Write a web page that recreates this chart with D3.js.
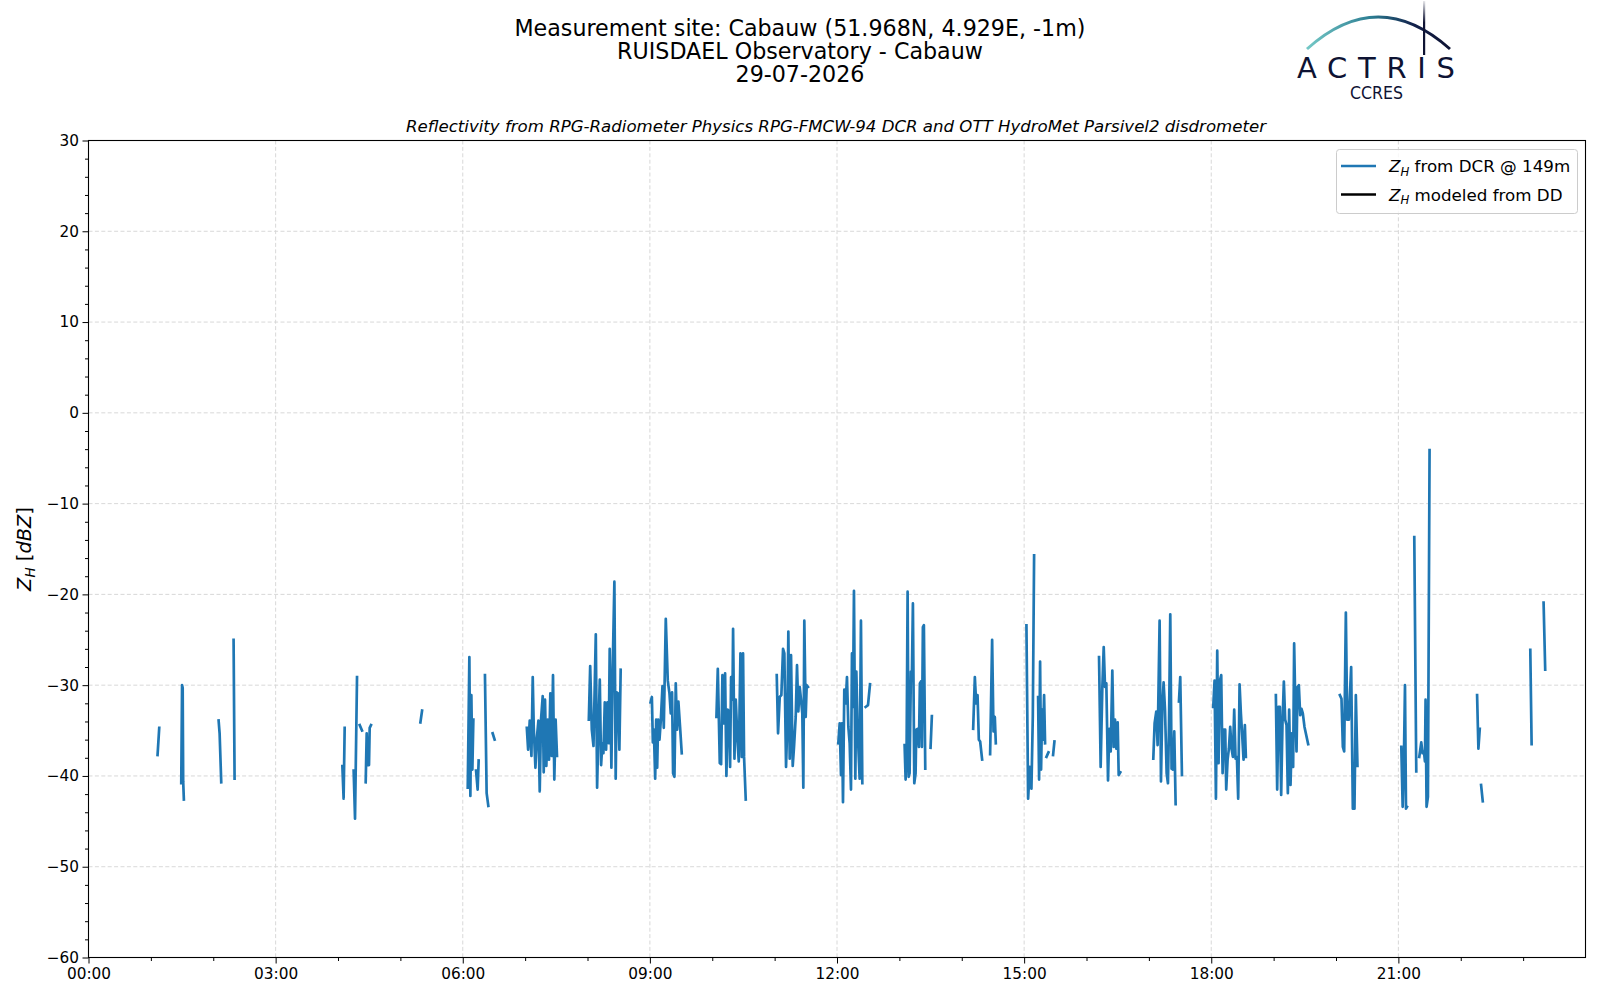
<!DOCTYPE html>
<html>
<head>
<meta charset="utf-8">
<script src="https://cdn.jsdelivr.net/npm/d3@7"></script>
<style>
    body { margin: 0; background: #ffffff; }
    text { font-family: "DejaVu Sans", sans-serif; }
</style>
</head>
<body>
<div id="chart-area"></div>
<script>
// DATA
// =================

// hours after midnight (UTC), null = gap in the record
var dcrHour = [
    1.107, 1.134, null,
    1.487, 1.500, 1.510, 1.518, 1.529, null,
    2.086, 2.102, 2.128, null,
    2.326, 2.342, null,
    4.070, 4.090, 4.107, null,
    4.251, 4.273, 4.305, null,
    4.348, 4.385, null,
    4.444, 4.460, 4.476, 4.497, 4.508, 4.529, null,
    5.321, 5.348, null,
    6.080, 6.106, 6.122, 6.138, 6.154, 6.170, null,
    6.213, 6.239, 6.255, null,
    6.356, 6.383, 6.410, null,
    6.479, 6.511, null,
    7.027, 7.048, 7.074, 7.101, 7.122, 7.138, 7.165, 7.186, 7.213, 7.234, 7.255, 7.282, 7.298, 7.319, 7.340, 7.362, 7.383, 7.404, 7.426, 7.447, 7.468, 7.489, 7.511, null,
    8.021, 8.043, 8.069, 8.096, 8.133, 8.154, 8.176, 8.197, 8.218, 8.239, 8.255, 8.277, 8.298, 8.319, 8.340, 8.356, 8.383, 8.404, 8.431, 8.452, 8.468, 8.489, 8.511, 8.532, null,
    9.011, 9.032, 9.048, 9.064, 9.085, 9.101, 9.117, 9.133, 9.154, 9.176, 9.202, 9.223, 9.255, 9.287, 9.314, 9.335, 9.356, 9.372, 9.394, 9.415, 9.436, 9.457, 9.484, 9.511, null,
    10.067, 10.089, 10.121, 10.142, 10.163, 10.185, 10.206, 10.227, 10.249, 10.270, 10.286, 10.302, 10.324, 10.334, 10.356, 10.377, 10.404, 10.425, 10.452, 10.473, 10.494, 10.510, 10.537, null,
    11.034, 11.055, 11.082, 11.108, 11.135, 11.156, 11.183, 11.204, 11.220, 11.242, 11.263, 11.290, 11.311, 11.338, 11.359, 11.380, 11.402, 11.423, 11.444, 11.460, 11.476, 11.498, 11.514, 11.535, null,
    12.021, 12.043, 12.064, 12.080, 12.096, 12.117, 12.139, 12.160, 12.182, 12.203, 12.224, 12.240, 12.256, 12.272, 12.294, 12.310, 12.331, 12.363, 12.384, 12.406, null,
    12.459, 12.497, 12.529, null,
    13.084, 13.100, 13.116, 13.132, 13.148, 13.164, 13.185, 13.201, 13.217, 13.239, 13.260, 13.271, 13.297, 13.313, 13.329, 13.345, 13.361, 13.377, 13.393, 13.415, null,
    13.500, 13.521, null,
    14.183, 14.210, 14.231, 14.253, 14.274, 14.295, 14.327, null,
    14.455, 14.487, 14.509, 14.530, 14.546, null,
    15.037, 15.064, 15.091, 15.117, 15.139, 15.160, null,
    15.224, 15.240, 15.256, 15.272, 15.288, 15.304, 15.320, 15.336, null,
    15.358, 15.390, null,
    15.464, 15.486, null,
    16.201, 16.227, 16.254, 16.276, 16.297, 16.318, 16.345, 16.366, 16.388, 16.414, 16.436, 16.457, 16.478, 16.500, 16.516, 16.542, null,
    17.071, 17.092, 17.119, 17.140, 17.172, 17.194, 17.215, 17.236, 17.258, 17.285, 17.306, 17.322, 17.343, 17.364, 17.386, 17.407, 17.429, null,
    17.482, 17.503, 17.530, null,
    18.032, 18.053, 18.075, 18.096, 18.117, 18.139, 18.160, 18.182, 18.203, 18.224, 18.240, 18.262, 18.283, 18.304, 18.326, 18.347, 18.368, 18.390, 18.411, 18.432, 18.454, 18.475, 18.496, 18.518, 18.539, 18.555, null,
    19.036, 19.057, 19.078, 19.100, 19.121, 19.142, 19.164, 19.185, 19.207, 19.228, 19.249, 19.271, 19.292, 19.313, 19.329, 19.351, 19.367, 19.383, 19.404, 19.426, 19.447, 19.468, 19.495, 19.554, null,
    20.062, 20.088, 20.110, 20.131, 20.158, 20.179, 20.206, 20.243, 20.270, 20.296, 20.318, 20.344, null,
    21.047, 21.069, 21.090, 21.106, 21.122, 21.138, null,
    21.255, 21.287, null,
    21.335, 21.367, 21.388, 21.410, 21.426, 21.436, 21.452, 21.474, 21.500, null,
    22.262, 22.283, 22.305, null,
    22.326, 22.353, null,
    23.115, 23.136, null,
    23.328, 23.354
];

// reflectivity Z_H [dBZ] from the cloud radar, same order as dcrHour
var dcrZh = [
    -37.7, -34.7, null,
    -40.8, -30.0, -30.3, -40.6, -42.6, null,
    -33.9, -35.3, -40.7, null,
    -25.0, -40.3, null,
    -38.9, -42.5, -34.7, null,
    -39.4, -44.7, -29.1, null,
    -34.4, -35.0, null,
    -40.7, -35.3, -38.8, -38.8, -34.7, -34.4, null,
    -34.1, -32.8, null,
    -41.3, -26.9, -42.2, -31.1, -39.3, -33.8, null,
    -39.4, -41.5, -38.3, null,
    -28.9, -41.9, -43.3, null,
    -35.3, -36.0, null,
    -34.7, -37.1, -33.9, -37.8, -29.1, -34.6, -39.1, -36.0, -33.9, -41.7, -33.8, -31.2, -39.6, -31.6, -38.9, -33.8, -38.2, -30.9, -37.8, -28.9, -40.4, -33.8, -37.8, null,
    -33.8, -27.9, -34.9, -36.7, -24.4, -41.3, -34.6, -29.4, -38.8, -36.4, -37.5, -31.9, -37.1, -31.9, -36.4, -26.0, -39.1, -28.2, -18.6, -40.3, -30.8, -30.9, -37.1, -28.3, null,
    -31.9, -31.3, -36.3, -34.9, -40.3, -33.8, -39.1, -33.8, -36.0, -33.8, -30.1, -34.7, -22.7, -29.5, -30.9, -33.1, -30.8, -39.7, -40.1, -29.8, -34.9, -31.8, -34.6, -37.5, null,
    -33.5, -28.2, -38.6, -38.7, -28.9, -34.2, -28.7, -40.0, -32.7, -32.9, -39.0, -29.1, -31.6, -23.8, -38.1, -31.6, -36.0, -38.4, -26.5, -37.9, -26.5, -37.9, -42.6, null,
    -28.9, -35.3, -31.3, -31.1, -26.0, -26.5, -39.0, -34.2, -24.1, -38.1, -26.7, -38.9, -36.8, -33.5, -27.8, -32.9, -30.2, -31.6, -33.1, -41.3, -22.9, -33.5, -30.0, -30.2, null,
    -36.4, -34.2, -39.9, -34.2, -42.9, -30.5, -32.0, -29.1, -34.6, -36.4, -41.5, -26.5, -32.4, -19.6, -40.3, -28.5, -34.9, -40.3, -22.9, -40.8, null,
    -32.4, -32.2, -29.9, null,
    -36.6, -40.4, -36.8, -19.7, -40.1, -39.7, -28.5, -28.7, -21.0, -40.8, -39.7, -34.9, -34.8, -36.8, -29.8, -29.6, -36.8, -23.6, -23.4, -39.2, null,
    -36.9, -33.4, null,
    -34.8, -29.1, -32.0, -31.1, -36.0, -36.2, -38.2, null,
    -37.6, -25.0, -35.1, -33.5, -36.4, null,
    -23.4, -42.5, -39.0, -41.4, -33.5, -15.7, null,
    -31.3, -40.4, -27.4, -39.3, -32.7, -36.0, -31.1, -36.4, null,
    -37.9, -37.4, null,
    -37.7, -36.2, null,
    -26.9, -39.0, -30.2, -25.8, -30.2, -29.8, -40.5, -34.8, -37.3, -28.4, -36.8, -33.8, -37.0, -34.1, -39.9, -39.6, null,
    -38.1, -34.2, -32.9, -36.6, -22.9, -40.6, -32.6, -29.7, -32.6, -39.7, -40.8, -34.6, -22.2, -39.2, -39.3, -35.1, -43.1, null,
    -31.8, -29.1, -39.9, null,
    -32.4, -29.5, -42.5, -26.2, -38.6, -29.5, -28.9, -39.7, -34.9, -34.9, -41.5, -38.2, -37.0, -34.6, -37.0, -37.9, -32.7, -38.1, -37.9, -42.5, -29.9, -33.1, -35.5, -38.2, -34.4, -37.9, null,
    -31.1, -41.5, -32.4, -32.4, -42.1, -34.2, -29.6, -33.8, -34.4, -41.9, -32.7, -41.0, -35.3, -39.0, -25.4, -33.5, -37.3, -30.2, -30.0, -33.3, -32.6, -33.1, -34.6, -36.5, null,
    -31.1, -31.5, -36.8, -37.3, -22.0, -33.8, -33.8, -28.0, -43.6, -43.6, -31.1, -38.9, null,
    -36.8, -43.4, -37.5, -30.0, -43.6, -43.4, null,
    -13.7, -39.5, null,
    -37.9, -36.3, -37.5, -37.3, -38.4, -31.6, -43.4, -42.3, -4.1, null,
    -31.1, -37.0, -34.8, null,
    -41.0, -42.8, null,
    -26.1, -36.5, null,
    -20.9, -28.3
];

// disdrometer modelled Z_H: no valid values this day
var ddHour = [];
var ddZh = [];

var yTicks = [-60, -50, -40, -30, -20, -10, 0, 10, 20, 30];
var yMinorTicks = d3.range(-60, 31, 2);
var xTickHours = [0, 3, 6, 9, 12, 15, 18, 21];
var xMinorHours = d3.range(0, 24, 1);

var titleLines = [
    'Measurement site: Cabauw (51.968N, 4.929E, -1m)',
    'RUISDAEL Observatory - Cabauw',
    '29-07-2026'
];
var subTitle = 'Reflectivity from RPG-Radiometer Physics RPG-FMCW-94 DCR and OTT HydroMet Parsivel2 disdrometer';
var legendLabels = ['from DCR @ 149m', 'modeled from DD'];
var legendColors = ['#1f77b4', '#000000'];

// CANVAS + MARGINS
// =================

var margin, width, height, svg, g, day0;

margin = {
    left: 88.5,
    right: 14.5,
    top: 140.5,
    bottom: 42.5
};

width = 1600 - margin.left - margin.right;
height = 1000 - margin.top - margin.bottom;

day0 = Date.UTC(2026, 6, 29);

svg = d3.select('#chart-area')
    .append('svg')
        .attr('width', 1600)
        .attr('height', 1000);

g = svg.append('g')
    .attr('transform', 'translate(' + margin.left + ', ' + margin.top + ')');

// SCALES
// =================

var x, y, toDate;

toDate = h => new Date(day0 + h * 3600000);

x = d3.scaleUtc()
    .domain([toDate(0), toDate(24)])
    .range([0, width]);

y = d3.scaleLinear()
    .domain([-60, 30])
    .range([height, 0]);

// GRID
// =================

g.append('g')
    .attr('class', 'grid')
    .selectAll('line.gy')
    .data(yTicks)
    .enter()
    .append('line')
        .attr('x1', 0)
        .attr('x2', width)
        .attr('y1', d => y(d))
        .attr('y2', d => y(d))
        .attr('stroke', '#d4d4d4')
        .attr('stroke-width', 0.9)
        .attr('stroke-dasharray', '4,2.4');

g.append('g')
    .attr('class', 'grid')
    .selectAll('line.gx')
    .data(xTickHours)
    .enter()
    .append('line')
        .attr('x1', d => x(toDate(d)))
        .attr('x2', d => x(toDate(d)))
        .attr('y1', 0)
        .attr('y2', height)
        .attr('stroke', '#d4d4d4')
        .attr('stroke-width', 0.9)
        .attr('stroke-dasharray', '4,2.4');

// LINES
// =================

var dcrPoints, ddPoints, line;

dcrPoints = dcrHour.map((h, i) => ({ t: h === null ? null : toDate(h), z: dcrZh[i] }));
ddPoints = ddHour.map((h, i) => ({ t: toDate(h), z: ddZh[i] }));

line = d3.line()
    .defined(d => d.t !== null && d.z !== null)
    .x(d => x(d.t))
    .y(d => y(d.z));

svg.append('defs')
    .append('clipPath')
        .attr('id', 'plot-clip')
    .append('rect')
        .attr('width', width)
        .attr('height', height);

g.append('path')
    .datum(dcrPoints)
    .attr('clip-path', 'url(#plot-clip)')
    .attr('fill', 'none')
    .attr('stroke', legendColors[0])
    .attr('stroke-width', 2.7)
    .attr('stroke-linejoin', 'round')
    .attr('stroke-linecap', 'square')
    .attr('d', line);

g.append('path')
    .datum(ddPoints)
    .attr('clip-path', 'url(#plot-clip)')
    .attr('fill', 'none')
    .attr('stroke', legendColors[1])
    .attr('stroke-width', 2.7)
    .attr('d', line);

// AXES
// =================

var yAxisCall, yMinorCall, xAxisCall, xMinorCall;

yAxisCall = d3.axisLeft(y)
    .tickValues(yTicks)
    .tickSize(6)
    .tickPadding(3.5)
    .tickFormat(d3.format('d'));
g.append('g')
    .attr('class', 'y axis')
    .call(yAxisCall);

yMinorCall = d3.axisLeft(y)
    .tickValues(yMinorTicks.filter(d => d % 10 !== 0))
    .tickSize(3.5)
    .tickFormat('');
g.append('g')
    .attr('class', 'y axis minor')
    .call(yMinorCall);

xAxisCall = d3.axisBottom(x)
    .tickValues(xTickHours.map(toDate))
    .tickSize(6)
    .tickPadding(4.5)
    .tickFormat(d3.utcFormat('%H:%M'));
g.append('g')
    .attr('class', 'x axis')
    .attr('transform', 'translate(0,' + height + ')')
    .call(xAxisCall);

xMinorCall = d3.axisBottom(x)
    .tickValues(xMinorHours.filter(d => d % 3 !== 0).map(toDate))
    .tickSize(3.5)
    .tickFormat('');
g.append('g')
    .attr('class', 'x axis minor')
    .attr('transform', 'translate(0,' + height + ')')
    .call(xMinorCall);

g.selectAll('.axis .domain').remove();
g.selectAll('.axis line')
    .attr('stroke', '#000')
    .attr('stroke-width', 1);
g.selectAll('.axis text')
    .attr('font-family', '"DejaVu Sans", sans-serif')
    .attr('font-size', '15.3px')
    .attr('fill', '#000');

// frame
g.append('rect')
    .attr('width', width)
    .attr('height', height)
    .attr('fill', 'none')
    .attr('stroke', '#000')
    .attr('stroke-width', 1.1);

// LABELS
// =================

var yLabel;

yLabel = g.append('text')
    .attr('class', 'y axis-label')
    .attr('x', -(height / 2))
    .attr('y', 31 - margin.left)
    .attr('font-size', '19.4px')
    .attr('text-anchor', 'middle')
    .attr('transform', 'rotate(-90)');
yLabel.append('tspan').attr('font-style', 'italic').text('Z');
yLabel.append('tspan').attr('font-style', 'italic').attr('font-size', '13.6px').attr('dy', 3.5).text('H');
yLabel.append('tspan').attr('dy', -3.5).text(' [');
yLabel.append('tspan').attr('font-style', 'italic').text('dBZ');
yLabel.append('tspan').text(']');

svg.selectAll('text.title')
    .data(titleLines)
    .enter()
    .append('text')
        .attr('class', 'title')
        .attr('x', 800)
        .attr('y', (d, i) => 35.5 + i * 23.2)
        .attr('font-size', '22.2px')
        .attr('text-anchor', 'middle')
        .text(d => d);

svg.append('text')
    .attr('x', 836)
    .attr('y', 132)
    .attr('font-size', '16.6px')
    .attr('font-style', 'italic')
    .attr('text-anchor', 'middle')
    .text(subTitle);

// LEGEND
// =================

var legend, rows;

legend = svg.append('g')
    .attr('class', 'legend');

legend.append('rect')
    .attr('x', 1336.5)
    .attr('y', 149.5)
    .attr('width', 241)
    .attr('height', 64)
    .attr('rx', 3)
    .attr('fill', '#ffffff')
    .attr('fill-opacity', 0.8)
    .attr('stroke', '#cccccc')
    .attr('stroke-width', 1);

rows = legend.selectAll('g.row')
    .data(legendLabels)
    .enter()
    .append('g')
        .attr('class', 'row')
        .attr('transform', (d, i) => 'translate(1341,' + (166 + i * 28.5) + ')');

rows.append('line')
    .attr('x1', 0)
    .attr('x2', 35)
    .attr('stroke', (d, i) => legendColors[i])
    .attr('stroke-width', 2.7);

var rowText = rows.append('text')
    .attr('x', 48)
    .attr('y', 6)
    .attr('font-size', '16.7px');
rowText.append('tspan').attr('font-style', 'italic').text('Z');
rowText.append('tspan').attr('font-style', 'italic').attr('font-size', '11.7px').attr('dy', 3.5).text('H');
rowText.append('tspan').attr('dy', -3.5).text(d => ' ' + d);

// LOGO
// =================

var logo, grad, vgrad;

grad = svg.select('defs')
    .append('linearGradient')
        .attr('id', 'arc-grad')
        .attr('x1', '0%')
        .attr('x2', '100%');
grad.append('stop').attr('offset', '0%').attr('stop-color', '#74c8c6');
grad.append('stop').attr('offset', '45%').attr('stop-color', '#2c7d92');
grad.append('stop').attr('offset', '75%').attr('stop-color', '#12204a');
grad.append('stop').attr('offset', '100%').attr('stop-color', '#0e1333');

vgrad = svg.select('defs')
    .append('linearGradient')
        .attr('id', 'mast-grad')
        .attr('x1', '0%').attr('x2', '0%')
        .attr('y1', '0%').attr('y2', '100%');
vgrad.append('stop').attr('offset', '0%').attr('stop-color', '#0e1333').attr('stop-opacity', 0.1);
vgrad.append('stop').attr('offset', '40%').attr('stop-color', '#0e1333').attr('stop-opacity', 1);

logo = svg.append('g')
    .attr('class', 'logo');

logo.append('path')
    .attr('d', 'M1307,49 Q1378,-15 1450,49')
    .attr('fill', 'none')
    .attr('stroke', 'url(#arc-grad)')
    .attr('stroke-width', 3);

logo.append('rect')
    .attr('x', 1423)
    .attr('y', 1)
    .attr('width', 2.2)
    .attr('height', 54)
    .attr('fill', 'url(#mast-grad)');

logo.append('text')
    .attr('x', 1297)
    .attr('y', 78)
    .attr('font-family', 'Lato, sans-serif')
    .attr('font-size', '29px')
    .attr('fill', '#0e1333')
    .attr('textLength', 158)
    .attr('lengthAdjust', 'spacing')
    .text('ACTRIS');

logo.append('text')
    .attr('x', 1350)
    .attr('y', 99)
    .attr('font-family', 'Lato, sans-serif')
    .attr('font-size', '18px')
    .attr('fill', '#0e1333')
    .attr('textLength', 53)
    .attr('lengthAdjust', 'spacingAndGlyphs')
    .text('CCRES');
</script>
</body>
</html>
